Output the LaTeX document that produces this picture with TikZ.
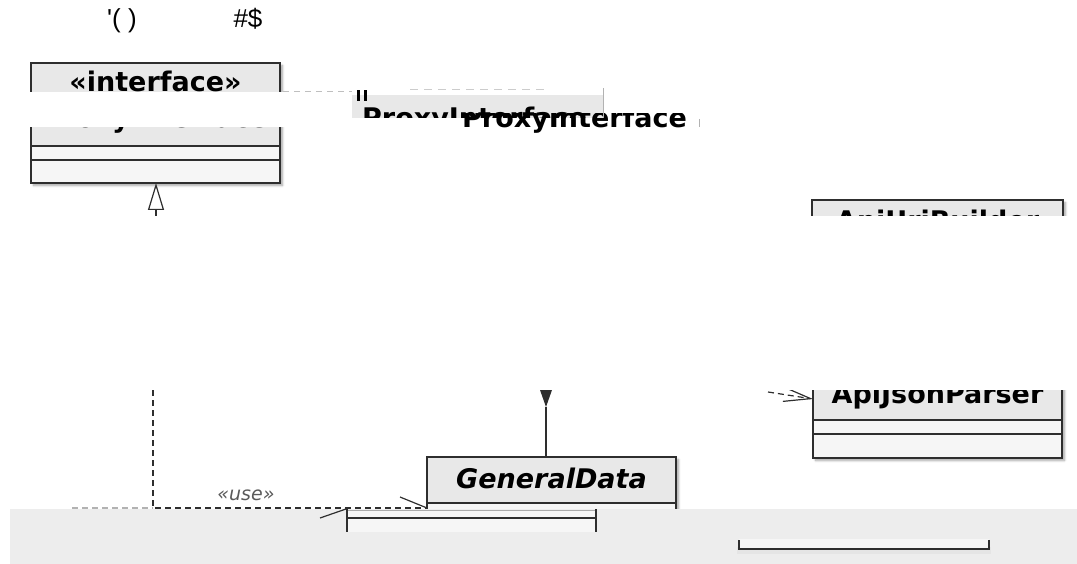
\documentclass[tikz,border=0pt]{standalone}
\usepackage{fontspec}
\setmainfont{DejaVu Sans}
\newfontfamily\arialfont[Ligatures=TeXOff]{Liberation Sans}
\usetikzlibrary{arrows.meta,shadows.blur}
\definecolor{hdr}{HTML}{E8E8E8}
\definecolor{cmp}{HTML}{F6F6F6}
\definecolor{bord}{HTML}{2E2E2E}
\definecolor{bandgray}{HTML}{EDEDED}
\definecolor{usegray}{HTML}{5A5A5A}
\begin{document}
\begin{tikzpicture}[x=1pt,y=-1pt,
  frame/.style={draw=bord, line width=1.3pt},
  boxbg/.style={fill=cmp, inner sep=0pt, outer sep=0pt, anchor=north west,
    blur shadow={shadow xshift=2.5pt, shadow yshift=-2.5pt, shadow blur steps=6, shadow opacity=35}},
  title/.style={font=\bfseries\fontsize{27}{30}\selectfont, text=black, inner sep=0pt, anchor=base},
  conn/.style={draw=bord, line width=1.2pt},
  dep/.style={conn, dash pattern=on 6pt off 4pt},
  ]
\useasboundingbox (0,0) rectangle (1077,564);

% stray glyphs at the top
\node[font=\arialfont\fontsize{26}{30}\selectfont, anchor=base, inner sep=0pt] (g1) at (122,28) {'( )};
\node[font=\arialfont\fontsize{26}{30}\selectfont, anchor=base, inner sep=0pt] (g2) at (248,28) {\#\$};

% interface box
\node[boxbg, minimum width=249pt, minimum height=120pt] (iface) at (31,63) {};
\fill[hdr] (iface.north west) rectangle (280,146);
\draw[frame] (31,146) -- (280,146) (31,160) -- (280,160);
\draw[frame] (iface.north west) rectangle (iface.south east);
\node[title] (ifst) at (155.5,92) {«interface»};
\node[title] (ifname) at (155.5,128) {ProxyInterface};

% ApiUriBuilder
\node[boxbg, minimum width=251pt, minimum height=120pt] (uri) at (812,200) {};
\fill[hdr] (812,200) rectangle (1063,260);
\draw[frame] (uri.north west) rectangle (uri.south east);
\node[title] (uriname) at (937.5,231) {ApiUriBuilder};

% ApiJsonParser
\node[boxbg, minimum width=249pt, minimum height=100pt] (ajp) at (813,358) {};
\fill[hdr] (813,358) rectangle (1062,420);
\draw[frame] (813,420) -- (1062,420) (813,434) -- (1062,434);
\draw[frame] (ajp.north west) rectangle (ajp.south east);
\node[title] (ajpname) at (937.5,403) {ApiJsonParser};

% GeneralData
\node[boxbg, minimum width=249pt, minimum height=76pt] (gd) at (427,457) {};
\fill[hdr] (427,457) rectangle (676,503);
\draw[frame] (427,503) -- (676,503);
\draw[frame] (gd.north west) rectangle (gd.south east);
\node[title, font=\bfseries\itshape\fontsize{27}{30}\selectfont] (gdname) at (551.5,488) {GeneralData};

% generalization
\coordinate (gsrc) at (156,230);
\draw[conn, -{Triangle[open, length=27pt, width=16pt, fill=white]}] (gsrc) -- (iface.south -| gsrc);

% composition (lower half of diamond)
\coordinate (comp) at (546,407);
\fill[bord] (540,390) -- (552,390) -- (comp) -- cycle;
\draw[conn] (comp) -- (comp |- gd.north);

% dependency into ApiJsonParser
\coordinate (dsrc) at (768,392);
\coordinate (dtip) at (813,399);
\draw[dep, -{Straight Barb[length=27pt, width=14pt]}] (dsrc) -- (dtip);

% use dependency
\coordinate (usrc) at (153,380);
\coordinate (ucorner) at (153,508);
\coordinate (utip) at (427,508);
\draw[dep] (usrc) -- (ucorner) -- (utip);
\draw[conn] (400,497) -- (utip);
\draw[dep, draw=gray!60] (72,508) -- (ucorner);
\node[font=\itshape\fontsize{19}{22}\selectfont, text=usegray, anchor=base, inner sep=0pt] (uselbl) at (246,500) {«use»};

% erased bands
\fill[white] (0,216) rectangle (1077,390);
\fill[white] (0,92) rectangle (352,127);
\fill[bandgray] (10,509) rectangle (1077,564);

% fragment inside the gray band
\fill[cmp] (347,510) rectangle (596,532);
\draw[bord!40, line width=0.8pt] (347,510) -- (596,510);
\draw[frame] (347,518) -- (596,518);
\draw[frame] (347,509) -- (347,532) (596,509) -- (596,532);
\draw[conn] (320,518) -- (346,509);

% bottom-right bar
\fill[gray!20] (737,547) rectangle (991,554);
\fill[cmp] (739,539) rectangle (989,549);
\draw[frame] (739,540) -- (739,549) -- (989,549) -- (989,540);

% ProxyInterface fragments
\begin{scope}
\clip (352,95) rectangle (604,118);
\fill[hdr] (352,95) rectangle (604,118);
\node[title, anchor=base west] (pi1) at (362,128) {ProxyInterface};
\end{scope}
\begin{scope}
\clip (455,113.5) rectangle (700,135);
\node[title, anchor=base west] (pi2) at (462,128) {ProxyInterface};
\end{scope}
\draw[gray!60, line width=1pt] (603,88) -- (603,118);
\draw[gray!60, line width=1pt] (699,119) -- (699,127);
\fill[black] (357,90) rectangle (360,101);
\fill[black] (364,90) rectangle (367,101);
\draw[gray!50, dash pattern=on 6pt off 5pt, line width=1pt] (283,92) -- (352,92);
\draw[gray!40, dash pattern=on 8pt off 6pt, line width=1pt] (410,90) -- (545,90);
\end{tikzpicture}
\end{document}
